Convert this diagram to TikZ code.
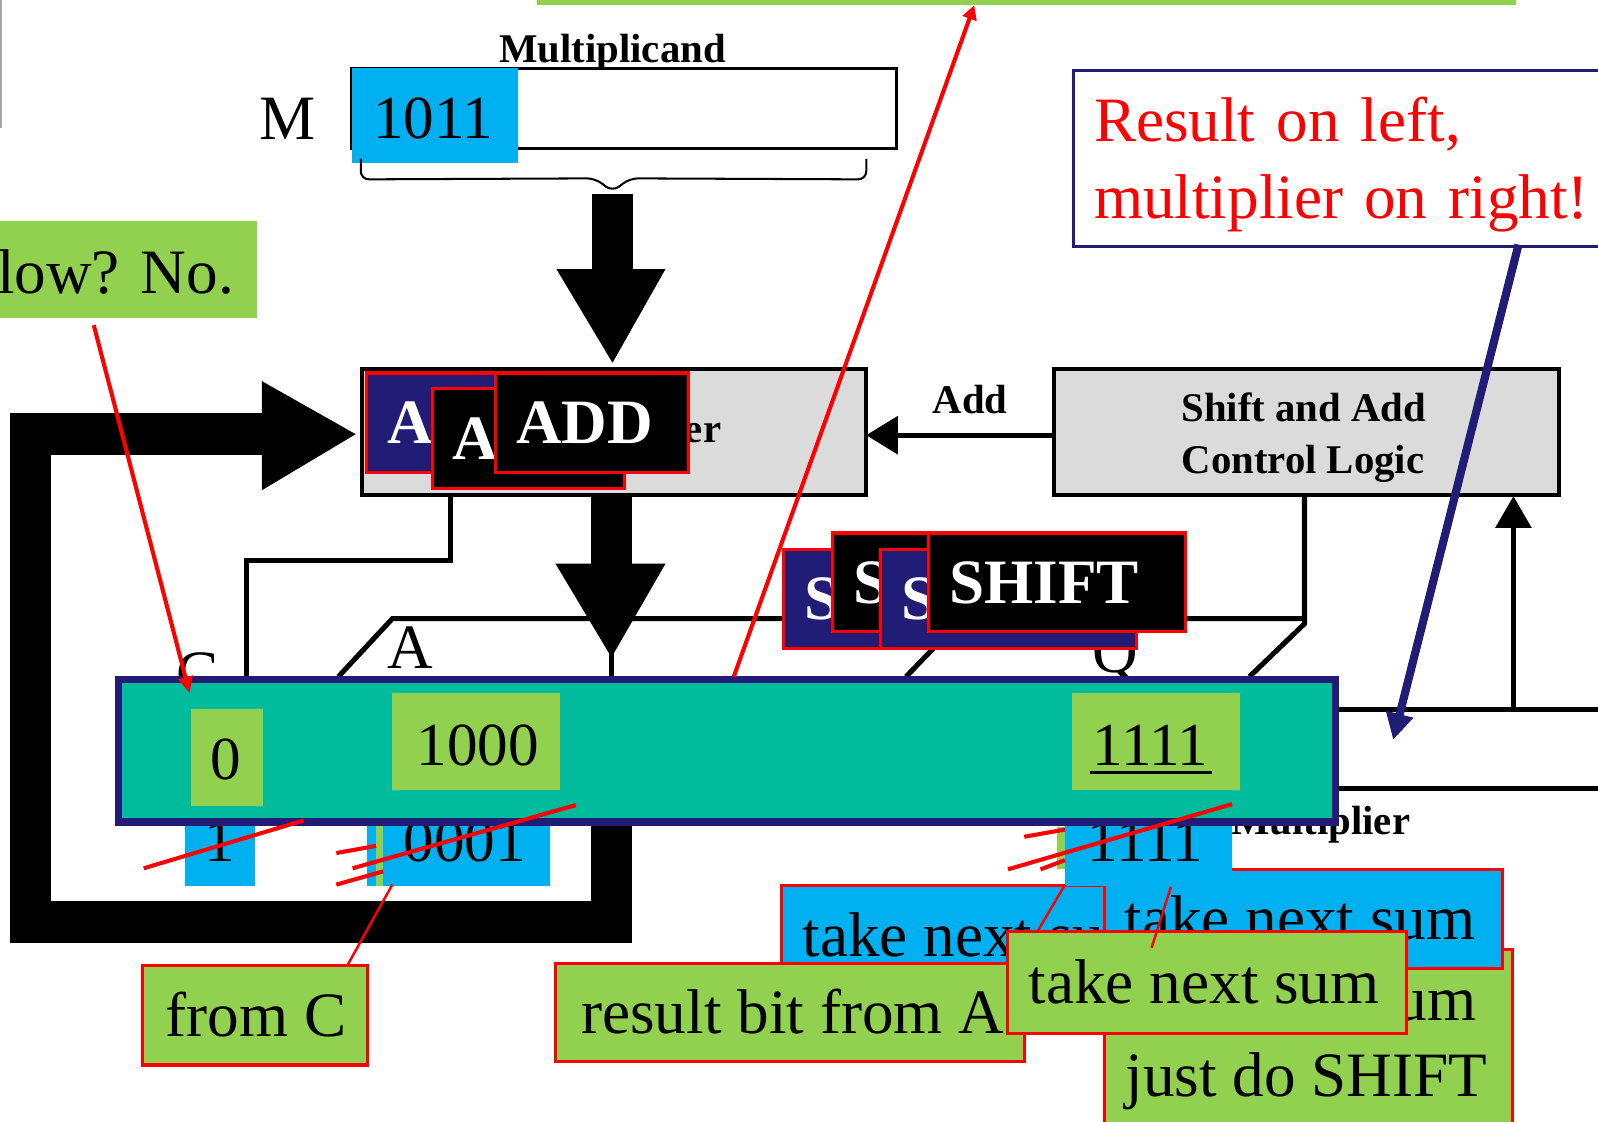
\documentclass[tikz,border=0pt]{standalone}
\usepackage{fontspec}
\setmainfont{Liberation Serif}
\usetikzlibrary{arrows.meta}
\definecolor{lgreen}{RGB}{146,208,80}
\definecolor{sky}{RGB}{0,176,240}
\definecolor{regteal}{RGB}{0,188,156}
\definecolor{navy}{RGB}{33,28,118}
\definecolor{unitgray}{RGB}{220,219,220}
\begin{document}
\begin{tikzpicture}[x=0.5pt,y=-0.5pt,
  wire/.style={line width=2.5pt},
  blk/.style={anchor=north west, inner sep=0pt, outer sep=0pt},
  unit/.style={blk, draw=black, line width=2pt, fill=unitgray},
  lbl/.style={font=\bfseries\fontsize{20}{24}\selectfont, inner sep=0pt},
  big/.style={font=\fontsize{31}{37}\selectfont, inner sep=0pt},
  bits/.style={font=\fontsize{30}{36}\selectfont, inner sep=0pt},
  callout/.style={blk, draw=red, line width=1.5pt},
  ctext/.style={big, anchor=base west},
  opbox/.style={blk, draw=red, line width=1.5pt},
  optext/.style={anchor=west, xshift=10pt, inner sep=0pt, text=white,
    font=\bfseries\fontsize{31}{37}\selectfont},
  strike/.style={red, line width=2pt},
  pointer/.style={red, line width=1.2pt},
]
\useasboundingbox (0,0) rectangle (1568,1100);
\clip (0,0) rectangle (1568,1100);
\fill[white] (0,0) rectangle (1568,1100);

% thin rule at the left margin
\draw[gray!70, line width=1pt] (1,0) -- (1,126);

% note above (only its lower edge shows)
\node[blk, fill=lgreen, anchor=south west, minimum width=480.5pt, minimum height=40pt] (topnote) at (527,5) {};

% overflow note
\node[blk, fill=lgreen, minimum width=146pt, minimum height=47.5pt] (ovf) at (-40,217) {};
\node[big, anchor=base east] (ovftext) at (230,288) {Overflow? No.};

% multiplicand register
\node[lbl, anchor=base] (mcand) at (601,61) {Multiplicand};
\node[blk, draw=black, line width=1.5pt, fill=white, minimum width=267.5pt, minimum height=39.5pt] (mreg) at (345,67) {};
\fill[sky] (345,67) rectangle (508,160);
\node[bits, anchor=base] (mval) at (425,136) {1011};
\node[big, anchor=base] (mlabel) at (282,137) {M};

% brace under the register
\draw[line width=1pt, rounded corners=4pt] (354,156) -- (354,176) -- (584,175) -- (601,188) -- (618,175) -- (850,176) -- (850,156);
\coordinate (brace) at (601,190);

% operand path into the adder
\node[unit, minimum width=247.5pt, minimum height=62pt] (alu) at (355,362) {};
\draw[line width=20.5pt] (brace) -- (601,266);
\fill (546,264) -- (653,264) -- (601,356) -- cycle;
\node[lbl, anchor=base east] (addertext) at (708,434) {Adder};

% control logic
\node[unit, minimum width=248pt, minimum height=62pt] (ctrl) at (1034,362) {};
\node[lbl, anchor=base west] (ctrl1) at (1159,414) {Shift and Add};
\node[lbl, anchor=base west] (ctrl2) at (1159,465) {Control Logic};

% add signal
\coordinate (addsrc) at (1034,427);
\draw[wire] (addsrc) -- (878,427);
\fill (881,408) -- (881,446) -- (850,427) -- cycle;
\node[lbl, anchor=base] (addlbl) at (952,406) {Add};

% feedback bus back into the adder
\draw[line width=20.5pt, line join=miter] (600,700) -- (600,905) -- (30,905) -- (30,426) -- (259,426);
\fill (257,374) -- (349,426) -- (257,481) -- cycle;

% adder output into the product register
\draw[line width=20pt] (600,486) -- (600,556);
\fill (545,553) -- (653,553) -- (600,645) -- cycle;
\draw[wire] (600,640) -- (600,666);

% carry wire
\draw[wire] (442,486) -- (442,550) -- (242,550) -- (242,666);

% register outlines behind the product register
\draw[wire] (332,664) -- (385,607) -- (1280,607);
\draw[wire] (1280,486) -- (1280,612) -- (1226,664);
\draw[wire] (889,664) -- (944,607);
\draw[wire] (1310,696) -- (1568,696);
\draw[wire] (1310,774) -- (1568,774);
\draw[wire] (1485,696) -- (1485,515);
\fill (1467,518) -- (1503,518) -- (1485,487) -- cycle;

% register labels
\node[big, anchor=base] (clbl) at (194,681) {C};
\node[big, anchor=base] (albl) at (403,656) {A};
\node[big, anchor=base] (qlbl) at (1094,660) {Q};
\node[lbl, anchor=base east] (mplier) at (1384,819) {Multiplier};

% callouts below
\node[callout, fill=sky, minimum width=195pt, minimum height=48.5pt] (take1) at (767,869) {};
\node[ctext] (take1t) at (787,939) {take next sum};
\node[callout, fill=lgreen, minimum width=200pt, minimum height=100pt] (skip) at (1084,932) {};
\node[ctext] (skipt1) at (1104,1001) {skip next sum};
\node[ctext] (skipt2) at (1104,1076) {just do SHIFT};
\node[callout, fill=sky, minimum width=195pt, minimum height=48.5pt] (take2) at (1084,853) {};
\node[ctext] (take2t) at (1103,922) {take next sum};
\node[callout, fill=lgreen, minimum width=230pt, minimum height=48.5pt] (resa) at (545,945) {};
\node[ctext] (resat) at (570,1014) {result bit from A};
\node[callout, fill=lgreen, minimum width=195.5pt, minimum height=50pt] (take3) at (989,914) {};
\node[ctext] (take3t) at (1009,985) {take next sum};
\node[callout, fill=lgreen, minimum width=110.5pt, minimum height=49pt] (fromc) at (140,947) {};
\node[ctext] (fromct) at (162,1017) {from C};

% bits shifted out below the register
\fill[sky] (182,780) rectangle (250,869);
\node[bits, anchor=base] (b1) at (216,845) {1};
\fill[sky] (360,780) rectangle (540,869);
\fill[lgreen] (369,800) rectangle (376,869);
\node[bits, anchor=base] (b2) at (456,845) {0001};
\fill[sky] (1045,780) rectangle (1209,869);
\fill[lgreen] (1037,811) rectangle (1045,853);
\node[bits, anchor=base] (b3) at (1124,845) {1111};

% product register
\node[blk, draw=navy, fill=regteal, line width=3.5pt, minimum width=597pt, minimum height=70pt] (preg) at (116.5,666.5) {};
\fill[lgreen] (187,696) rectangle (258,791);
\node[bits, anchor=base] (cval) at (222,765) {0};
\fill[lgreen] (385,680) rectangle (549,775);
\node[bits, anchor=base] (aval) at (469,751) {1000};
\fill[lgreen] (1052,680) rectangle (1217,775);
\node[bits, anchor=base] (qval) at (1129,751) {1111};
\draw[line width=1.3pt] (1070,758) -- (1189,758);

% strike-outs
\draw[strike] (141,852) -- (298,805);
\draw[strike] (346,852) -- (565,790);
\draw[strike] (330,837) -- (369,830);
\draw[strike] (330,868) -- (376,855);
\draw[strike] (989,853) -- (1209,789);
\draw[strike] (1005,821) -- (1045,814);
\draw[strike] (1021,853) -- (1045,844);

% pointers from the callouts
\coordinate (p1) at (385,868);
\draw[pointer] (fromc.north west) ++(201,0) -- (p1);
\coordinate (p2) at (1045,868);
\draw[pointer] (p2) -- (1018,914);
\coordinate (p3) at (1149,870);
\draw[pointer] (p3) -- (1130,930);

% ADD step frames
\node[opbox, fill=navy, minimum width=95pt, minimum height=49pt] (add1) at (360,366) {};
\node[optext] at (add1.west) {ADD};
\node[opbox, fill=black, minimum width=94.5pt, minimum height=49pt] (add2) at (424,381) {};
\node[optext] at (add2.west) {ADD};
\node[opbox, fill=black, minimum width=95pt, minimum height=49pt] (add3) at (486,366) {};
\node[optext] at (add3.west) {ADD};

% SHIFT step frames
\node[opbox, fill=navy, minimum width=126pt, minimum height=48.5pt] (sh1) at (769,539) {};
\node[optext] at (sh1.west) {SHIFT};
\node[opbox, fill=black, minimum width=126pt, minimum height=48.5pt] (sh2) at (817,523) {};
\node[optext] at (sh2.west) {SHIFT};
\node[opbox, fill=navy, minimum width=125.5pt, minimum height=48.5pt] (sh3) at (864,539) {};
\node[optext] at (sh3.west) {SHIFT};
\node[opbox, fill=black, minimum width=126pt, minimum height=48.5pt] (sh4) at (911,523) {};
\node[optext] at (sh4.west) {SHIFT};

% red arrows
\coordinate (regtop) at (720,664);
\coordinate (topend) at (956,5);
\draw[red, line width=2pt, -{Triangle[length=7pt,width=7pt]}] (regtop) -- (topend);
\coordinate (ovfstart) at (92,319);
\coordinate (cbit) at (186,680);
\draw[red, line width=2pt, -{Triangle[length=8pt,width=7pt]}] (ovfstart) -- (cbit);

% note on the right
\node[draw=navy, line width=1.5pt, fill=white, anchor=north west, inner xsep=10pt, inner ysep=0pt,
  text height=34.5pt, text depth=51.5pt, text width=254pt, align=left, text=red,
  font=\fontsize{31}{38}\selectfont] (note) at (1052,68) {Result on left,\\multiplier on right!};
\coordinate (notefoot) at (1490,240);
\coordinate (qreg) at (1367,726);
\draw[navy, line width=4pt, -{Triangle[length=13pt,width=13pt]}] (notefoot) -- (qreg);
\end{tikzpicture}
\end{document}
